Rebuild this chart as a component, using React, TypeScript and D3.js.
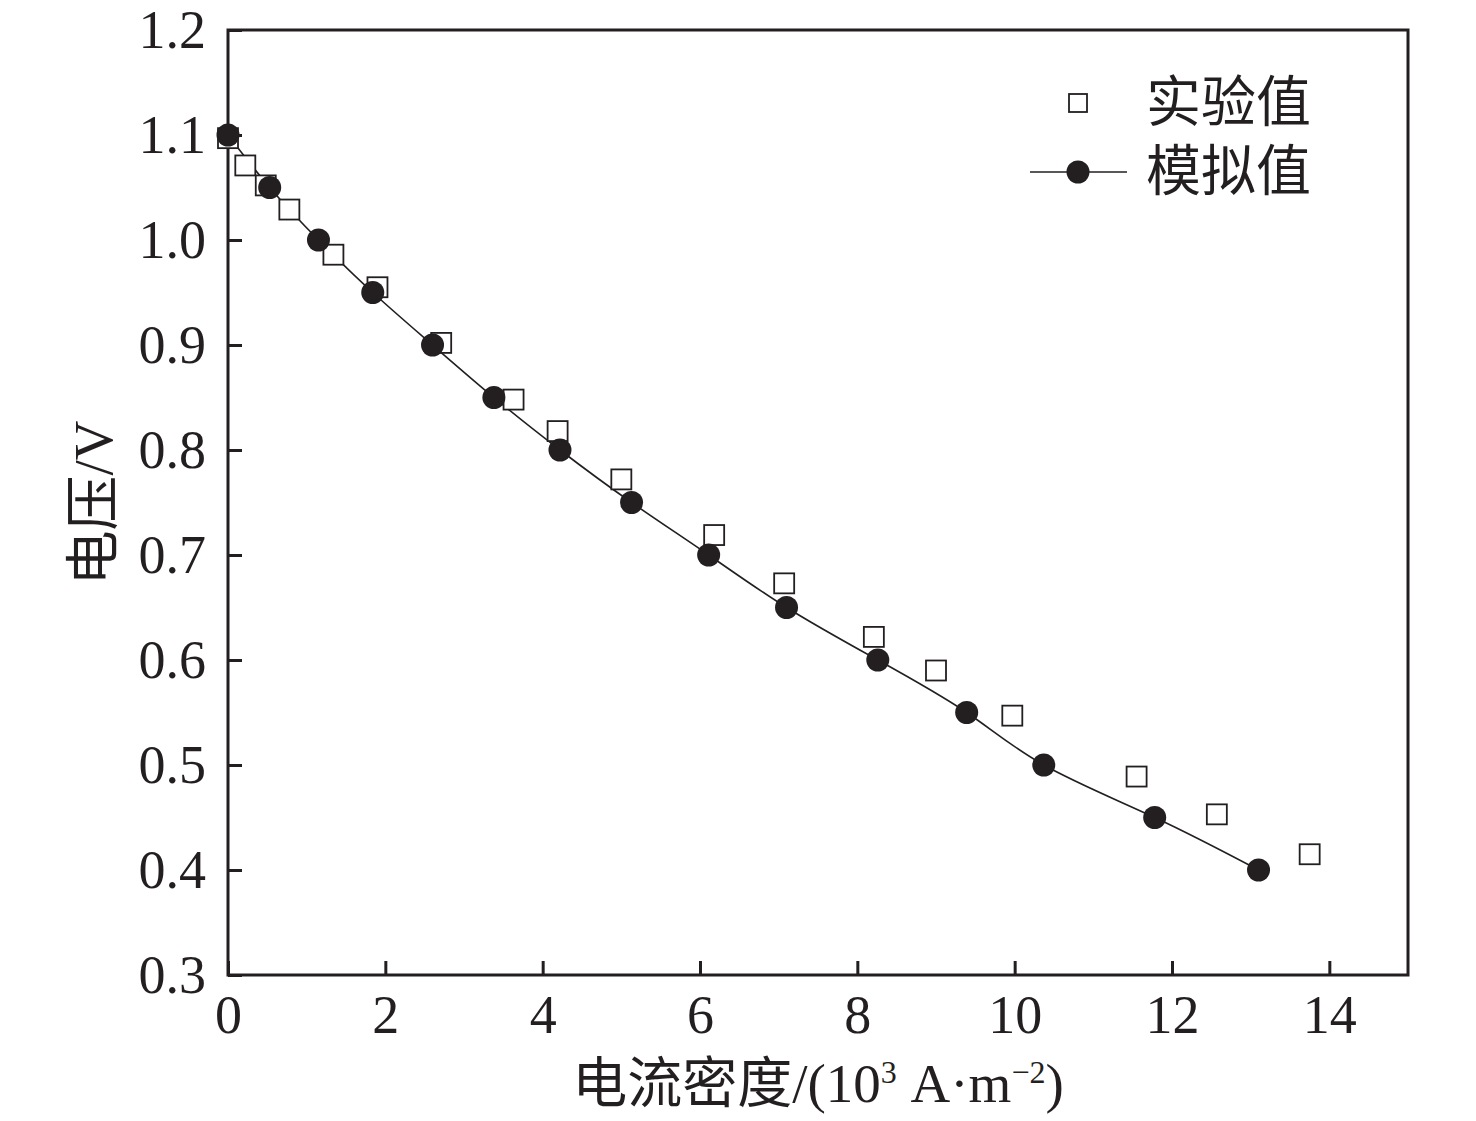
import { useEffect, useRef } from "react";
import * as d3 from "d3";

// experimental values (squares)
const expX = [0, 0.22, 0.48, 0.78, 1.34, 1.9, 2.71, 3.63, 4.19, 5.0, 6.18, 7.07, 8.21, 9.0, 9.97, 11.55, 12.57, 13.75];
const expY = [1.097, 1.071, 1.052, 1.029, 0.986, 0.955, 0.902, 0.848, 0.818, 0.772, 0.719, 0.673, 0.622, 0.59, 0.547, 0.489, 0.453, 0.415];

// simulated values (filled circles + line)
const simX = [0, 0.53, 1.15, 1.84, 2.6, 3.38, 4.22, 5.13, 6.11, 7.1, 8.26, 9.39, 10.37, 11.78, 13.1];
const simY = [1.1, 1.05, 1.0, 0.95, 0.9, 0.85, 0.8, 0.75, 0.7, 0.65, 0.6, 0.55, 0.5, 0.45, 0.4];

const xTicks = [0, 2, 4, 6, 8, 10, 12, 14];
const yTicks = [0.3, 0.4, 0.5, 0.6, 0.7, 0.8, 0.9, 1.0, 1.1, 1.2];

const width = 1476;
const height = 1121;
const margin = { left: 228, right: 68, top: 30, bottom: 146 };
const font = "'Liberation Serif', 'Noto Sans CJK SC', serif";

export default function App() {
  const svgRef = useRef<SVGSVGElement>(null);

  useEffect(() => {
    document.body.style.margin = "0";
    const svg = d3.select(svgRef.current);
    svg.selectAll("*").remove();

    const x = d3.scaleLinear().domain([0, 15]).range([margin.left, width - margin.right]);
    const y = d3.scaleLinear().domain([0.3, 1.2]).range([height - margin.bottom, margin.top]);

    svg.append("rect").attr("width", width).attr("height", height).attr("fill", "white");

    const xAxis = d3
      .axisBottom(x)
      .tickValues(xTicks)
      .tickSizeInner(-14)
      .tickSizeOuter(0)
      .tickPadding(20)
      .tickFormat(d3.format("d"));
    const yAxis = d3
      .axisLeft(y)
      .tickValues(yTicks)
      .tickSizeInner(-14)
      .tickSizeOuter(0)
      .tickPadding(22)
      .tickFormat(d3.format(".1f"));

    const gx = svg
      .append("g")
      .attr("transform", `translate(0,${height - margin.bottom})`)
      .call(xAxis);
    const gy = svg.append("g").attr("transform", `translate(${margin.left},0)`).call(yAxis);

    [gx, gy].forEach((g) => {
      g.select(".domain").remove();
      g.selectAll("line").attr("stroke", "#231f20").attr("stroke-width", 3);
      g.selectAll("text")
        .attr("fill", "#231f20")
        .style("font-family", font)
        .style("font-size", "54px");
    });

    // frame
    svg
      .append("rect")
      .attr("x", margin.left)
      .attr("y", margin.top)
      .attr("width", width - margin.left - margin.right)
      .attr("height", height - margin.top - margin.bottom)
      .attr("fill", "none")
      .attr("stroke", "#231f20")
      .attr("stroke-width", 3);

    // simulated line
    const line = d3
      .line<number>()
      .x((d, i) => x(simX[i]))
      .y((d) => y(d))
      .curve(d3.curveNatural);
    svg
      .append("path")
      .attr("d", line(simY))
      .attr("fill", "none")
      .attr("stroke", "#231f20")
      .attr("stroke-width", 1.6);

    // experimental squares
    const s = 20;
    svg
      .append("g")
      .selectAll("rect")
      .data(expY)
      .join("rect")
      .attr("x", (d, i) => x(expX[i]) - s / 2)
      .attr("y", (d) => y(d) - s / 2)
      .attr("width", s)
      .attr("height", s)
      .attr("fill", "white")
      .attr("stroke", "#231f20")
      .attr("stroke-width", 1.8);

    // simulated circles
    svg
      .append("g")
      .selectAll("circle")
      .data(simY)
      .join("circle")
      .attr("cx", (d, i) => x(simX[i]))
      .attr("cy", (d) => y(d))
      .attr("r", 11.5)
      .attr("fill", "#231f20");

    // legend
    const lg = svg.append("g");
    lg.append("rect")
      .attr("x", 1078 - 9)
      .attr("y", 103 - 9)
      .attr("width", 18)
      .attr("height", 18)
      .attr("fill", "white")
      .attr("stroke", "#231f20")
      .attr("stroke-width", 1.8);
    lg.append("line")
      .attr("x1", 1030)
      .attr("x2", 1127)
      .attr("y1", 172)
      .attr("y2", 172)
      .attr("stroke", "#231f20")
      .attr("stroke-width", 1.6);
    lg.append("circle").attr("cx", 1078).attr("cy", 172).attr("r", 11.5).attr("fill", "#231f20");
    lg.append("text")
      .attr("x", 1146)
      .attr("y", 121)
      .text("实验值")
      .style("font-family", font)
      .style("font-size", "55px")
      .attr("fill", "#231f20");
    lg.append("text")
      .attr("x", 1146)
      .attr("y", 190)
      .text("模拟值")
      .style("font-family", font)
      .style("font-size", "55px")
      .attr("fill", "#231f20");

    // axis titles
    const xt = svg
      .append("text")
      .attr("x", 818)
      .attr("y", 1102)
      .attr("text-anchor", "middle")
      .style("font-family", font)
      .style("font-size", "55px")
      .attr("fill", "#231f20");
    xt.append("tspan").text("电流密度/(10");
    xt.append("tspan").text("3").attr("dy", -19).style("font-size", "32px");
    xt.append("tspan").text(" A·m").attr("dy", 19);
    xt.append("tspan").text("−2").attr("dy", -19).style("font-size", "32px");
    xt.append("tspan").text(")").attr("dy", 19);

    svg
      .append("text")
      .attr("transform", `translate(112,503) rotate(-90)`)
      .attr("text-anchor", "middle")
      .text("电压/V")
      .style("font-family", font)
      .style("font-size", "55px")
      .attr("fill", "#231f20");
  }, []);

  return <svg ref={svgRef} width={width} height={height}></svg>;
}
